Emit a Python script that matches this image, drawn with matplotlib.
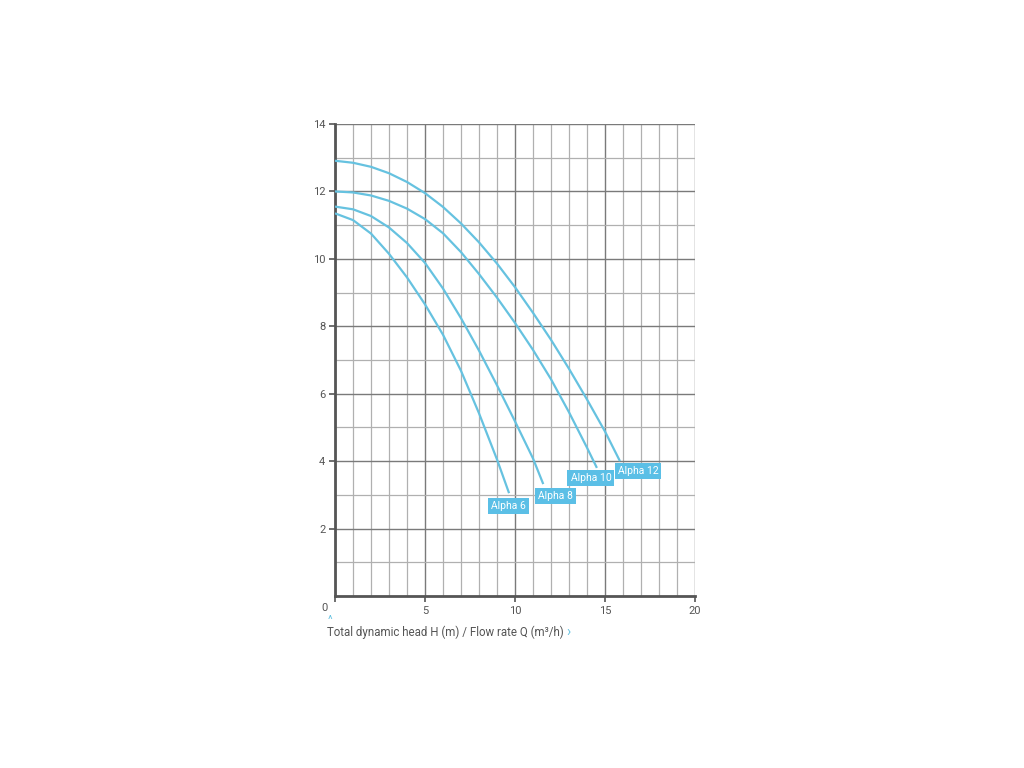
import matplotlib
matplotlib.use("Agg")
import matplotlib.pyplot as plt
from matplotlib.ticker import MultipleLocator

# ---- data ----
series_names = ["Alpha 6", "Alpha 8", "Alpha 10", "Alpha 12"]

alpha6_q = [0, 1, 2, 3, 4, 5, 6, 7, 8, 9, 9.67]
alpha6_h = [11.35, 11.15, 10.75, 10.15, 9.45, 8.65, 7.75, 6.68, 5.42, 4.05, 3.05]

alpha8_q = [0, 1, 2, 3, 4, 5, 6, 7, 8, 9, 10, 11, 11.57]
alpha8_h = [11.55, 11.47, 11.27, 10.93, 10.47, 9.88, 9.12, 8.24, 7.28, 6.25, 5.18, 4.08, 3.32]

alpha10_q = [0, 1, 2, 3, 4, 5, 6, 7, 8, 9, 10, 11, 12, 13, 14, 14.55]
alpha10_h = [12.00, 11.97, 11.88, 11.72, 11.49, 11.18, 10.76, 10.20, 9.55, 8.85, 8.10, 7.30, 6.43, 5.45, 4.40, 3.80]

alpha12_q = [0, 1, 2, 3, 4, 5, 6, 7, 8, 9, 10, 11, 12, 13, 14, 15, 15.83]
alpha12_h = [12.91, 12.85, 12.73, 12.54, 12.28, 11.95, 11.54, 11.05, 10.49, 9.86, 9.16, 8.40, 7.60, 6.74, 5.83, 4.88, 4.00]

label_q = [9.64, 12.25, 14.22, 16.83]
label_h = [2.67, 2.97, 3.50, 3.71]

x_ticks = [0, 5, 10, 15, 20]
y_ticks = [2, 4, 6, 8, 10, 12, 14]
x_label = "Total dynamic head H (m) / Flow rate Q (m³/h)"

# ---- styling ----
plt.rcParams['font.family'] = ['Roboto', 'DejaVu Sans']
line_color = "#66c2e0"
box_color = "#5bbfe6"
text_color = "#555555"

fig = plt.figure(figsize=(10.24, 7.68), dpi=100)
ax = fig.add_axes([335/1024, 1-596/768, 360/1024, 472/768])

ax.set_xlim(0, 20)
ax.set_ylim(0, 14)

# grid
ax.xaxis.set_minor_locator(MultipleLocator(1))
ax.yaxis.set_minor_locator(MultipleLocator(1))
ax.set_xticks(x_ticks)
ax.set_yticks(y_ticks)
ax.grid(which="minor", color="#b0b0b0", linewidth=0.9)
ax.grid(which="major", color="#7a7a7a", linewidth=1.0)
ax.set_axisbelow(True)

for s in ["top", "right"]:
    ax.spines[s].set_visible(False)
for s in ["left", "bottom"]:
    ax.spines[s].set_color("#555555")
    ax.spines[s].set_linewidth(2)

ax.tick_params(which="major", length=4, width=1.2, color="#555555",
               labelsize=8, labelcolor=text_color, pad=3)
ax.tick_params(which="minor", length=0)
ax.set_xticklabels(["", "5", "10", "15", "20"])
ax.set_yticklabels([str(v) for v in y_ticks])
ax.text(-0.6, -0.2, "0", ha="center", va="top", fontsize=8, color=text_color,
        transform=ax.transData, clip_on=False)

qs = [alpha6_q, alpha8_q, alpha10_q, alpha12_q]
hs = [alpha6_h, alpha8_h, alpha10_h, alpha12_h]
for q, h in zip(qs, hs):
    ax.plot(q, h, color=line_color, linewidth=1.6, solid_capstyle="butt",
            solid_joinstyle="round", zorder=3)

for name, lq, lh in zip(series_names, label_q, label_h):
    ax.text(lq, lh, name, ha="center", va="center", fontsize=7.5, color="white",
            zorder=4,
            bbox=dict(boxstyle="square,pad=0.3", facecolor=box_color, edgecolor="none"))

fig.text(327/1024, 1-632/768, x_label, ha="left", va="center", fontsize=8.3,
         color=text_color)
fig.text(330/1024, 1-620/768, "^", ha="center", va="center", fontsize=8,
         color=line_color)
fig.text(568/1024, 1-632/768, "›", ha="center", va="center", fontsize=10,
         color=line_color)

fig.savefig("out.png", dpi=100)
